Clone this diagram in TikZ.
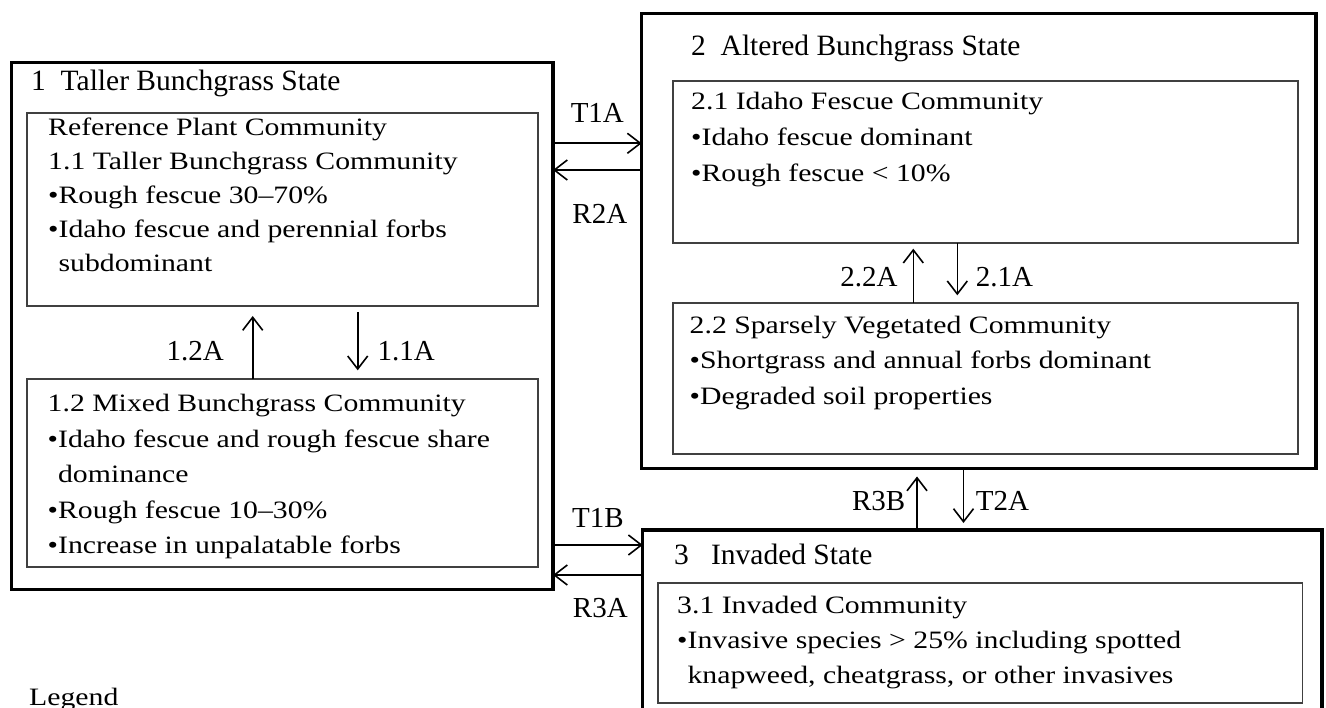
\documentclass[tikz,border=0pt]{standalone}
\usepackage{fontspec}
\setmainfont{Liberation Serif}
\newfontfamily\bodyfont{Liberation Serif}[FakeStretch=1.19]
\usetikzlibrary{arrows.meta,positioning}
\begin{document}
\begin{tikzpicture}[x=1pt,y=-1pt,
  statebox/.style={draw,line width=3.2pt,anchor=north west,inner sep=0pt,outer sep=0pt},
  commbox/.style={draw=black!75,line width=1.8pt,anchor=north west,inner sep=0pt,outer sep=0pt},
  title/.style={anchor=base west,inner sep=0pt,font=\fontsize{29.5}{34}\selectfont},
  body/.style={anchor=base west,align=left,inner sep=0pt,font={\bodyfont\fontsize{25}{#1}\selectfont}},
  lbl/.style={inner sep=0pt,font=\fontsize{29}{34}\selectfont},
  arr/.style={line width=1.6pt,-{Straight Barb[length=13pt,width=20pt]}}]
\useasboundingbox (0,0) rectangle (1326,708);
\clip (0,0) rectangle (1326,708);
% states
\node[statebox,minimum width=541.3pt,minimum height=526.6pt] (s1) at (11.7,62.7) {};
\node[statebox,minimum width=674.3pt,minimum height=455.2pt] (s2) at (641.7,13.3) {};
\node[statebox,minimum width=679.3pt,minimum height=230pt] (s3) at (642.7,530) {};
\node[title] (s1t) at (31,91) {1~~Taller Bunchgrass State};
\node[title] (s2t) at (691,55.5) {2~~Altered Bunchgrass State};
\node[title] (s3t) at (674,564) {3~~~Invaded State};
% communities (body text is placed at the baseline of its last line)
\node[commbox,minimum width=510.7pt,minimum height=193.3pt] (b11) at (27.3,112.7) {};
\node[commbox,minimum width=510.7pt,minimum height=188pt] (b12) at (27.3,379.3) {};
\node[commbox,minimum width=625pt,minimum height=162pt] (b21) at (673.3,80.7) {};
\node[commbox,minimum width=625.5pt,minimum height=150.7pt] (b22) at (672.8,303.3) {};
\node[commbox,minimum width=644.2pt,minimum height=120.3pt] (b31) at (658.3,583) {};
\node[body=34] (b11t) at (48,272) {Reference Plant Community\\
  1.1 Taller Bunchgrass Community\\
  \textbullet Rough fescue 30–70\%\\
  \textbullet Idaho fescue and perennial forbs\\
  \phantom{\textbullet}subdominant};
\node[body=35.5] (b12t) at (47.5,553.6) {1.2 Mixed Bunchgrass Community\\
  \textbullet Idaho fescue and rough fescue share\\
  \phantom{\textbullet}dominance\\
  \textbullet Rough fescue 10–30\%\\
  \textbullet Increase in unpalatable forbs};
\node[body=35.7] (b21t) at (691,181.4) {2.1 Idaho Fescue Community\\
  \textbullet Idaho fescue dominant\\
  \textbullet Rough fescue < 10\%};
\node[body=35.5] (b22t) at (689.5,404.3) {2.2 Sparsely Vegetated Community\\
  \textbullet Shortgrass and annual forbs dominant\\
  \textbullet Degraded soil properties};
\node[body=35] (b31t) at (677,683.3) {3.1 Invaded Community\\
  \textbullet Invasive species > 25\% including spotted\\
  \phantom{\textbullet}knapweed, cheatgrass, or other invasives};
\node[body=34] (leg) at (29,705) {Legend};
% transitions between states
\coordinate (t1a) at (0,143.3);
\coordinate (r2a) at (0,170);
\coordinate (t1b) at (0,545);
\coordinate (r3a) at (0,575);
\draw[arr] (t1a -| s1.east) -- (t1a -| s2.west) node[lbl,midway,above=20.3pt] (t1al) {T1A};
\draw[arr] (r2a -| s2.west) -- (r2a -| s1.east) node[lbl,midway,below=33.8pt,xshift=2.5pt] (r2al) {R2A};
\draw[arr] (t1b -| s1.east) -- (t1b -| s3.west) node[lbl,midway,above=16.7pt] (t1bl) {T1B};
\draw[arr] (r3a -| s3.west) -- (r3a -| s1.east) node[lbl,midway,below=22.8pt,xshift=2.5pt] (r3al) {R3A};
\coordinate (r3b) at (917,0);
\coordinate (t2a) at (963.5,0);
\draw[arr,shorten >=8pt] (r3b |- s3.north) -- (r3b |- s2.south) node[lbl,pos=.314,anchor=base east,xshift=-11pt] (r3bl) {R3B};
\draw[arr,shorten >=7pt] (t2a |- s2.south) -- (t2a |- s3.north) node[lbl,pos=.686,anchor=base west,xshift=11.5pt] (t2al) {T2A};
% pathways within states
\coordinate (p12) at (252.7,0);
\coordinate (p11) at (357.7,0);
\coordinate (p22) at (913.3,0);
\coordinate (p21) at (957.3,0);
\draw[arr,shorten >=10pt] (p12 |- b12.north) -- (p12 |- b11.south) node[lbl,pos=.263,anchor=base east,xshift=-28pt] (p12l) {1.2A};
\draw[arr,shorten <=6pt,shorten >=9pt] (p11 |- b11.south) -- (p11 |- b12.north) node[lbl,pos=.737,anchor=base west,xshift=19pt] (p11l) {1.1A};
\draw[arr,shorten >=6pt] (p22 |- b22.north) -- (p22 |- b21.south) node[lbl,pos=.274,anchor=base east,xshift=-15pt] (p22l) {2.2A};
\draw[arr,shorten >=8pt] (p21 |- b21.south) -- (p21 |- b22.north) node[lbl,pos=.726,anchor=base west,xshift=17.7pt] (p21l) {2.1A};
\end{tikzpicture}
\end{document}
